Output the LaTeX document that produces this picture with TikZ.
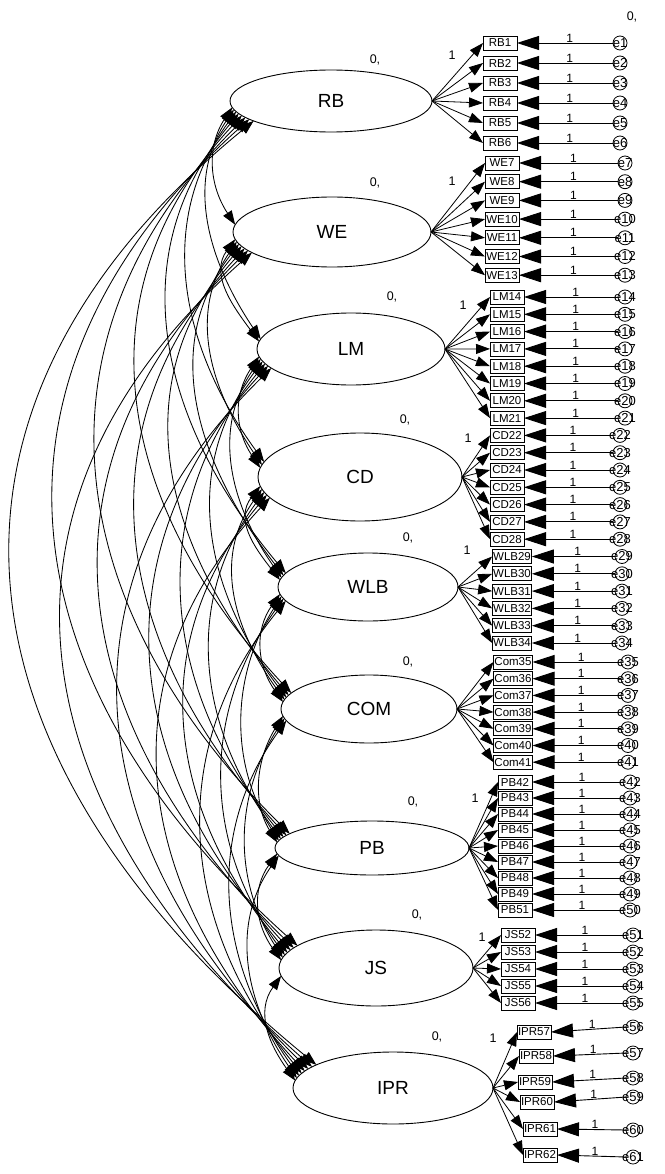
\documentclass[tikz,border=0pt]{standalone}
\usepackage{fontspec}
\setmainfont{Liberation Sans}
\usetikzlibrary{shapes.geometric,arrows.meta}
\begin{document}
\begin{tikzpicture}[x=1pt,y=1pt,
  lat/.style={ellipse,draw,line width=0.9pt,font=\fontsize{19}{19}\selectfont,inner sep=0pt,outer sep=0pt},
  obs/.style={rectangle,draw,line width=0.8pt,font=\fontsize{11.5}{11.5}\selectfont,minimum width=34pt,minimum height=14pt,inner sep=1pt,outer sep=0pt},
  errc/.style={circle,draw,line width=0.8pt,minimum size=14pt,inner sep=0pt,outer sep=0pt},
  errt/.style={font=\fontsize{13}{13}\selectfont,inner sep=0pt},
  lbl/.style={font=\fontsize{12}{12}\selectfont,inner sep=0.5pt},
  plbl/.style={font=\fontsize{12.5}{12.5}\selectfont,inner sep=0pt},
  load/.style={-{Triangle[length=14pt,width=10pt]},line width=0.8pt},
  errarr/.style={-{Triangle[length=22pt,width=14pt]},line width=0.9pt},
  cov/.style={{Triangle[length=14pt,width=10pt]}-{Triangle[length=14pt,width=10pt]},line width=0.85pt},
]
\useasboundingbox (0,0) rectangle (664,-1174);
\fill[white] (0,0) rectangle (664,-1174);

% latent variables
\def\CX{{331,332,351,360,368,369,372,376,393}}
\def\CY{{101,232,349,477,587,709,848,968,1088}}
\def\RX{{101,99,94,102,90,88,97,97,100}}
\def\RY{{31,35,36,44,34,34,27,38,36}}
\foreach \i/\nm in {1/RB,2/WE,3/LM,4/CD,5/WLB,6/COM,7/PB,8/JS,9/IPR}{
  \pgfmathsetmacro\cx{\CX[\i-1]}
  \pgfmathsetmacro\cy{\CY[\i-1]}
  \pgfmathsetmacro\w{2*\RX[\i-1]}
  \pgfmathsetmacro\h{2*\RY[\i-1]}
  \node[lat,minimum width=\w pt,minimum height=\h pt] (L\i) at (\cx,-\cy) {\nm};
}

% "0," labels of latents
\foreach \i/\x/\y in {1/375/60,2/375/183,3/392/297,4/405/420,5/408/538,6/408/662,7/413/802,8/417/915,9/437/1037}{
  \node[plbl] (z\i) at (\x,-\y) {0,};
}
% "1" labels of first loadings
\foreach \i/\x/\y in {1/452/55,2/452/181,3/463/305,4/468/438,5/467/550,7/475/798,8/482/937,9/493/1038}{
  \node[plbl] (one\i) at (\x,-\y) {1};
}

% covariances
\foreach \i in {1,...,8}{
  \pgfmathtruncatemacro\ii{\i+1}
  \foreach \j in {\ii,...,9}{
    \pgfmathtruncatemacro\s{\j-\i}
    \pgfmathsetmacro\al{8+4*\s}
    \pgfmathsetmacro\c{10+12*\s+4*\s*\s}
    \pgfmathsetmacro\ax{\CX[\i-1]+\RX[\i-1]*cos(180+\al)}
    \pgfmathsetmacro\ay{\CY[\i-1]-\RY[\i-1]*sin(180+\al)}
    \pgfmathsetmacro\bx{\CX[\j-1]+\RX[\j-1]*cos(180-\al)}
    \pgfmathsetmacro\by{\CY[\j-1]-\RY[\j-1]*sin(180-\al)}
    \pgfmathsetmacro\dy{0.3*(\CY[\j-1]-\CY[\i-1])}
    \coordinate (ca\i\j) at (\ax,-\ay);
    \coordinate (cb\i\j) at (\bx,-\by);
    \draw[cov] (ca\i\j) .. controls +(-\c,-\dy) and +(-\c,\dy) .. (cb\i\j);
  }
}

% indicator macro: #1 latent, #2 error index, #3 indicator label, #4 y, #5 box x, #6 error x
\newcommand\indic[6]{%
  \node[obs] (b#2) at (#5,-#4) {#3};
  \node[errc] (e#2) at (#6,-#4) {};
  \node[errt] (t#2) at (#6,-#4) {e#2};
  \draw[load] (L#1.east) -- (b#2.west);
  \draw[errarr] (e#2.west) -- (b#2.east) node[lbl,pos=0.45,above=0pt] (o#2) {1};
}

% RB
\foreach \k in {1,...,6}{
  \pgfmathsetmacro\yy{43+20*(\k-1)}
  \indic{1}{\k}{RB\k}{\yy}{500}{620}
}
% WE
\foreach \k in {7,...,13}{
  \pgfmathsetmacro\yy{163+18.7*(\k-7)}
  \indic{2}{\k}{WE\k}{\yy}{502}{625}
}
% LM
\foreach \k in {14,...,21}{
  \pgfmathsetmacro\yy{297+17.3*(\k-14)}
  \indic{3}{\k}{LM\k}{\yy}{507}{625}
}
% CD
\foreach \k in {22,...,28}{
  \pgfmathsetmacro\yy{297+17.3*(\k-14)}
  \indic{4}{\k}{CD\k}{\yy}{507}{620}
}
% WLB
\foreach \k in {29,...,34}{
  \pgfmathsetmacro\yy{297+17.3*(\k-14)}
  \indic{5}{\k}{WLB\k}{\yy}{512}{622}
}
% COM
\foreach \k in {35,...,41}{
  \pgfmathsetmacro\yy{662+16.7*(\k-35)}
  \indic{6}{\k}{Com\k}{\yy}{513}{628}
}
% PB
\foreach \k/\nm in {42/42,43/43,44/44,45/45,46/46,47/47,48/48,49/49,50/51}{
  \pgfmathsetmacro\yy{782+16*(\k-42)}
  \indic{7}{\k}{PB\nm}{\yy}{515}{630}
}
% JS
\foreach \k in {51,...,55}{
  \pgfmathsetmacro\yy{935+17*(\k-51)}
  \pgfmathtruncatemacro\nm{\k+1}
  \indic{8}{\k}{JS\nm}{\yy}{518}{633}
}
% IPR
\foreach \k/\by/\ey/\bx in {56/1032/1027/534,57/1056/1053/536,58/1082/1078/535,59/1102/1097/537,60/1129/1130/540,61/1155/1157/540}{
  \pgfmathtruncatemacro\nm{\k+1}
  \node[obs] (b\k) at (\bx,-\by) {IPR\nm};
  \node[errc] (e\k) at (633,-\ey) {};
  \node[errt] (t\k) at (633,-\ey) {e\k};
  \draw[load] (L9.east) -- (b\k.west);
  \draw[errarr] (e\k.west) -- (b\k.east) node[lbl,pos=0.45,above=0pt] (o\k) {1};
}
\node[plbl] (ze1) at (632,-17) {0,};
\end{tikzpicture}
\end{document}
